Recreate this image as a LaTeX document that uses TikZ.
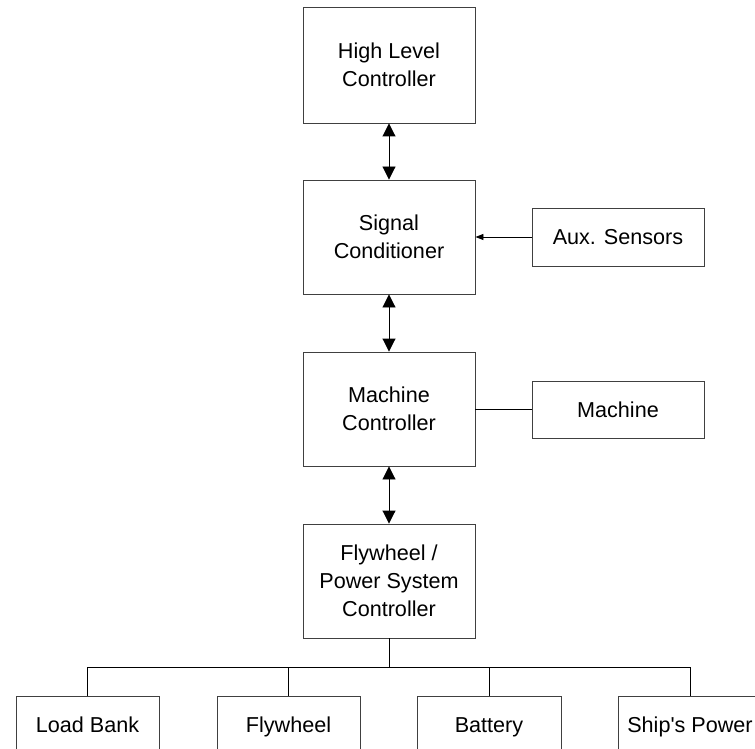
\documentclass[tikz,border=0pt]{standalone}
\usepackage{fontspec}
\setmainfont{Liberation Sans}
\usetikzlibrary{arrows.meta}
\begin{document}
\begin{tikzpicture}[x=1pt,y=-1pt,
  box/.style={draw=black!75,line width=0.9pt,rectangle,align=center,inner sep=0pt,
    font=\fontsize{21.6}{28}\selectfont,text=black},
  bigbox/.style={box,minimum width=172pt,minimum height=114pt},
  onerow/.style={text height=15.5pt,text depth=0pt},
  sidebox/.style={box,onerow,minimum width=172pt,minimum height=58pt},
  lowbox/.style={box,onerow,minimum width=143pt,minimum height=58pt},
  link/.style={line width=0.9pt,black},
  dbl/.style={link,{Triangle[length=13pt,width=13pt]}-{Triangle[length=13pt,width=13pt]}},
  sarrow/.style={link,-{Triangle[length=8pt,width=6pt]}}]
\useasboundingbox (0,0) rectangle (755,749);
\clip (0,0) rectangle (755,749);
\node[bigbox,minimum height=116pt] (hlc) at (389,65) {High Level\\Controller};
\node[bigbox] (sc) at (389,237) {Signal\\Conditioner};
\node[bigbox] (mc) at (389,409) {Machine\\Controller};
\node[bigbox] (fps) at (389,581) {Flywheel /\\Power System\\Controller};
\node[sidebox] (aux) at (618,237) {Aux. Sensors};
\node[sidebox,minimum height=57pt] (mach) at (618,409.5) {Machine};
\node[lowbox] (lb) at (87.5,725) {Load Bank};
\node[lowbox] (fw) at (288.5,725) {Flywheel};
\node[lowbox,minimum width=144pt] (bat) at (489,725) {Battery};
\node[lowbox] (sp) at (690,725) {Ship\textquotesingle s Power};
\coordinate (bus) at (389,667);
\draw[dbl] (hlc.south) -- (sc.north);
\draw[dbl] (sc.south) -- (mc.north);
\draw[dbl] (mc.south) -- (fps.north);
\draw[sarrow] (aux.west) -- (sc.east);
\draw[link] (mach.west) -- (mc.east |- mach.west);
\draw[link] (fps.south) -- (bus);
\draw[link] (lb.north |- bus) -- (sp.north |- bus);
\draw[link] (lb.north |- bus) -- (lb.north);
\draw[link] (fw.north |- bus) -- (fw.north);
\draw[link] (bat.north |- bus) -- (bat.north);
\draw[link] (sp.north |- bus) -- (sp.north);
\end{tikzpicture}
\end{document}
